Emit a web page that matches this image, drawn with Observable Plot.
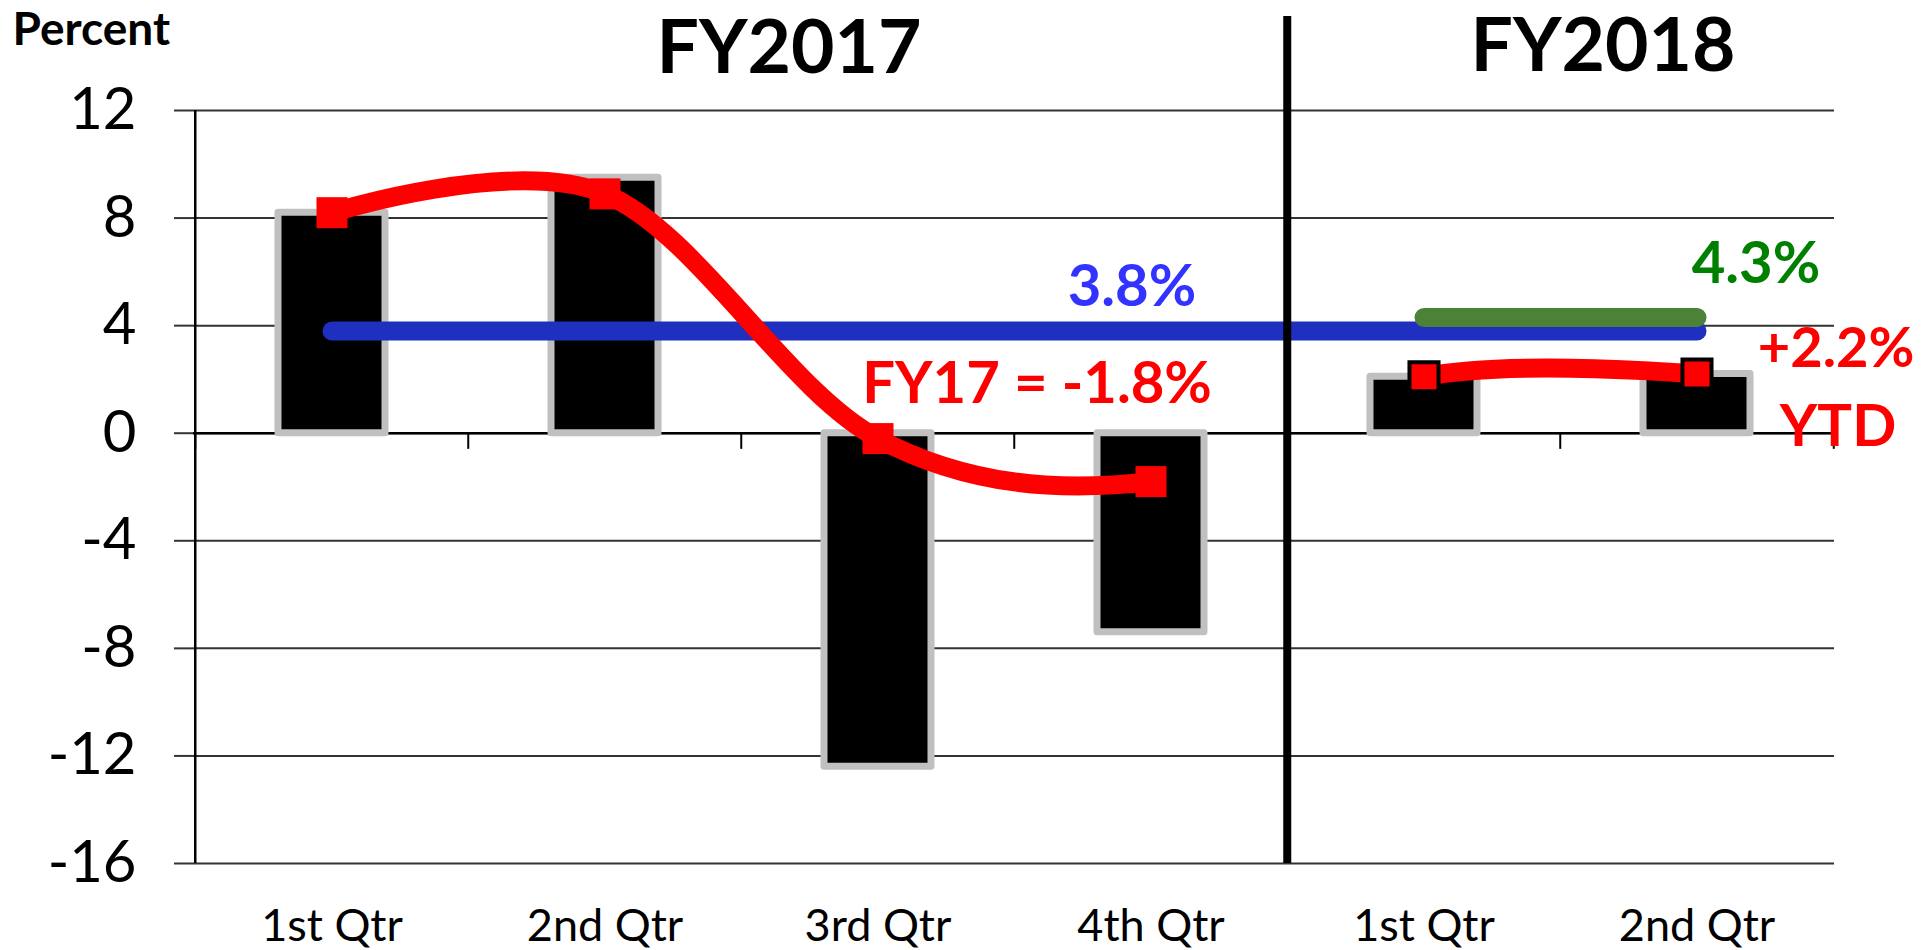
<!DOCTYPE html>
<html>
<head>
<meta charset="utf-8">
<script src="https://cdn.jsdelivr.net/npm/d3@7"></script>
<script src="https://cdn.jsdelivr.net/npm/@observablehq/plot@0.6"></script>
<style>
  html, body { margin: 0; padding: 0; background: #fff; }
  #chart svg { display: block; }
</style>
</head>
<body>
<div id="chart"></div>
<script>
// ---- data ----
const categories = ["1st Qtr", "2nd Qtr", "3rd Qtr", "4th Qtr", "1st Qtr", "2nd Qtr"];
const fiscalYears = ["FY2017", "FY2017", "FY2017", "FY2017", "FY2018", "FY2018"];
const quarterlyChange = [8.2, 9.5, -12.4, -7.4, 2.1, 2.2];   // black bars
const yearOverYear = [8.2, 8.9, -0.2, -1.8, 2.1, 2.2];       // red smoothed line
const fy17Average = 3.8;                                    // blue line
const fy18Average = 4.3;                                    // green line
const yTicks = [-16, -12, -8, -4, 0, 4, 8, 12];
const yearLabels = ["FY2017", "FY2018"];

// ---- layout ----
const W = 1931, H = 950;
const ML = 193, MR = 97, MT = 110, MB = 87;
const keys = categories.map((c, i) => `${fiscalYears[i]}|${c}`);
const bw = (W - ML - MR) / keys.length;
const splitIndex = fiscalYears.findIndex(f => f !== fiscalYears[0]);

const rows = keys.map((k, i) => ({key: k, fy: fiscalYears[i], bar: quarterlyChange[i], line: yearOverYear[i]}));
const fy17Rows = rows.filter(r => r.fy === yearLabels[0]);
const fy18Rows = rows.filter(r => r.fy === yearLabels[1]);

// Excel-like smoothed line over the whole series, with the segment between fiscal years hidden
function gapCardinal(context) {
  let seg = 0;
  const gap = splitIndex - 1;
  const proxy = {
    moveTo(x, y) { seg = 0; context.moveTo(x, y); },
    lineTo(x, y) { if (seg++ === gap) context.moveTo(x, y); else context.lineTo(x, y); },
    bezierCurveTo(a, b, c, d, x, y) { if (seg++ === gap) context.moveTo(x, y); else context.bezierCurveTo(a, b, c, d, x, y); },
    closePath() { context.closePath(); }
  };
  return d3.curveCardinal(proxy);
}

const bold = {fontWeight: "bold"};
const yTop = yTicks[yTicks.length - 1];

const chart = Plot.plot({
  width: W, height: H,
  marginLeft: ML, marginRight: MR, marginTop: MT, marginBottom: MB,
  style: {fontFamily: "Lato, 'Open Sans', sans-serif", background: "#fff", color: "#000", overflow: "visible"},
  x: {domain: keys, padding: 0},
  y: {domain: [yTicks[0], yTop]},
  marks: [
    Plot.gridY({ticks: yTicks, stroke: "#333", strokeOpacity: 1, strokeWidth: 2}),
    Plot.axisY({ticks: yTicks, tickSize: 19, tickPadding: 38, fontSize: 58, stroke: "#333", strokeWidth: 2, label: null, tickFormat: d => String(d)}),
    Plot.axisX({tickSize: 0, tickPadding: 46, fontSize: 45, label: null, tickFormat: d => d.split("|")[1]}),
    Plot.ruleY([0], {stroke: "#000", strokeWidth: 2.5}),
    // x ticks at band boundaries
    Plot.ruleX(keys, {x: d => d, y1: 0, y2: -0.6, dx: -bw / 2, stroke: "#000", strokeWidth: 2}),
    Plot.ruleX([keys[keys.length - 1]], {x: d => d, y1: 0, y2: -0.6, dx: bw / 2, stroke: "#000", strokeWidth: 2}),
    // left axis line
    Plot.ruleX([keys[0]], {x: d => d, y1: yTicks[0], y2: yTop, dx: -bw / 2, stroke: "#000", strokeWidth: 2.5}),
    // bars
    Plot.barY(rows, {x: "key", y: "bar", fill: "#000", stroke: "#c0c0c0", strokeWidth: 7, strokeLinejoin: "round", insetLeft: 83, insetRight: 83}),
    // averages
    Plot.line([{x: keys[0], y: fy17Average}, {x: keys[keys.length - 1], y: fy17Average}],
      {x: "x", y: "y", stroke: "#1f2fbf", strokeWidth: 19, strokeLinecap: "round"}),
    Plot.line([{x: keys[splitIndex], y: fy18Average}, {x: keys[keys.length - 1], y: fy18Average}],
      {x: "x", y: "y", stroke: "#4b8238", strokeWidth: 19, strokeLinecap: "round"}),
    // red smoothed line
    Plot.line(rows, {x: "key", y: "line", stroke: "#ff0000", strokeWidth: 19, curve: gapCardinal, strokeLinejoin: "round"}),
    Plot.dot(fy17Rows, {x: "key", y: "line", symbol: "square", r: 17.5, fill: "#ff0000", stroke: null}),
    Plot.dot(fy18Rows, {x: "key", y: "line", symbol: "square", r: 16.4, fill: "#ff0000", stroke: "#000", strokeWidth: 4}),
    // fiscal year divider
    Plot.ruleX([keys[splitIndex]], {x: d => d, y1: yTicks[0], y2: yTop + 3.5, dx: -bw / 2, stroke: "#000", strokeWidth: 8}),
    // texts
    Plot.text([yearLabels[0]], {x: () => keys[2], y: () => yTop, dx: -89, dy: -62, text: d => d, fontSize: 75, ...bold, fill: "#000"}),
    Plot.text([yearLabels[1]], {x: () => keys[5], y: () => yTop, dx: -94, dy: -64, text: d => d, fontSize: 75, ...bold, fill: "#000"}),
    Plot.text(["Percent"], {frameAnchor: "top-left", lineAnchor: "middle", dx: -181, dy: -80, textAnchor: "start", text: d => d, fontSize: 46, ...bold, fill: "#000"}),
    Plot.text([fy17Average], {x: () => keys[3], y: d => d, dx: -19, dy: -44, text: d => `${d.toFixed(1)}%`, fontSize: 58, ...bold, fill: "#3333ff"}),
    Plot.text([fy18Average], {x: () => keys[5], y: d => d, dx: 59, dy: -53, text: d => `${d.toFixed(1)}%`, fontSize: 58, ...bold, fill: "#008000"}),
    Plot.text([yearOverYear[3]], {x: () => keys[3], y: d => d, dx: -114, dy: -97, text: d => `FY17 = ${d.toFixed(1)}%`, fontSize: 58, ...bold, fill: "#ff0000"}),
    Plot.text([yearOverYear[5]], {x: () => keys[5], y: d => d, dx: 139, dy: -25, text: d => `+${d.toFixed(1)}%`, fontSize: 56, ...bold, fill: "#ff0000"}),
    Plot.text(["YTD"], {x: () => keys[5], y: () => yearOverYear[5], dx: 141, dy: 53, text: d => d, fontSize: 58, ...bold, fill: "#ff0000"})
  ]
});
document.getElementById("chart").appendChild(chart);
</script>
</body>
</html>
